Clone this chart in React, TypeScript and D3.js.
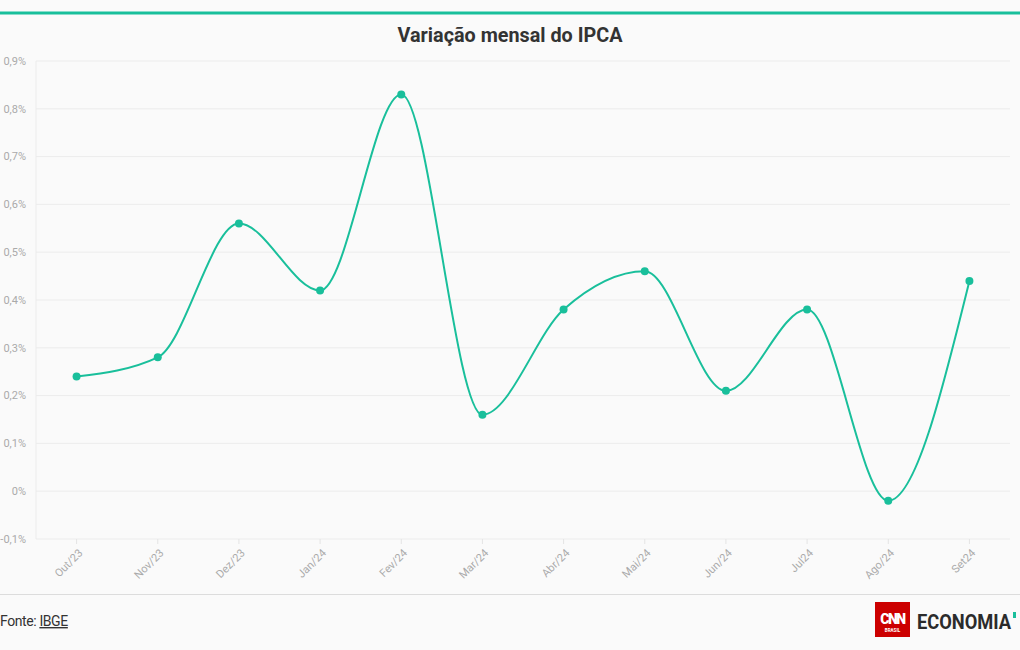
import React from "react";
import * as d3 from "d3";

const months = ["Out/23", "Nov/23", "Dez/23", "Jan/24", "Fev/24", "Mar/24", "Abr/24", "Mai/24", "Jun/24", "Jul24", "Ago/24", "Set24"];
const ipca = [0.24, 0.28, 0.56, 0.42, 0.83, 0.16, 0.38, 0.46, 0.21, 0.38, -0.02, 0.44];
const yTicks = [-0.1, 0, 0.1, 0.2, 0.3, 0.4, 0.5, 0.6, 0.7, 0.8, 0.9];

const W = 1020, H = 650;
const left = 36, right = 1010, top = 61, bottom = 539;
const teal = "#19bf9b";

function fmt(v: number) {
  if (Math.abs(v) < 1e-9) return "0%";
  return (v < 0 ? "-" : "") + Math.abs(v).toFixed(1).replace(".", ",") + "%";
}

export default function App() {
  const x = d3.scaleBand<string>().domain(months).range([left, right]).padding(0);
  const y = d3.scaleLinear().domain([-0.1, 0.9]).range([bottom, top]);
  const cx = (m: string) => (x(m) as number) + x.bandwidth() / 2;
  const line = d3
    .line<number>()
    .x((_, i) => cx(months[i]))
    .y((d) => y(d))
    .curve(d3.curveMonotoneX);

  return (
    <div style={{ position: "absolute", left: 0, top: 0, width: W, height: H, background: "#fafafa" }}>
      <svg width={W} height={H} style={{ display: "block", fontFamily: "Roboto, sans-serif" }}>
        <rect x={0} y={0} width={W} height={H} fill="#fafafa" />
        <rect x={0} y={11.5} width={W} height={3} fill={teal} />
        <text x={510} y={42} textAnchor="middle" fontSize={21} fontWeight={700} fill="#333" textLength={225} lengthAdjust="spacingAndGlyphs">
          Variação mensal do IPCA
        </text>
        {yTicks.map((t) => (
          <g key={t}>
            <line x1={left} x2={right} y1={y(t)} y2={y(t)} stroke="#ececec" strokeWidth={1} />
            <text x={26} y={y(t)} dy="0.35em" textAnchor="end" fontSize={11} fill="#aaaaaa">
              {fmt(t)}
            </text>
          </g>
        ))}
        <line x1={left} x2={left} y1={top} y2={bottom} stroke="#ececec" />
        {months.map((m) => (
          <g key={m}>
            <line x1={cx(m)} x2={cx(m)} y1={bottom} y2={bottom + 5} stroke="#e4e4e4" />
            <text
              transform={`translate(${cx(m) + 4},${bottom + 12}) rotate(-45)`}
              textAnchor="end"
              dy="0.35em"
              fontSize={11}
              fill="#aaaaaa"
            >
              {m}
            </text>
          </g>
        ))}
        <path d={line(ipca) || ""} fill="none" stroke={teal} strokeWidth={2} />
        {ipca.map((v, i) => (
          <circle key={i} cx={cx(months[i])} cy={y(v)} r={4} fill={teal} />
        ))}
        <line x1={0} x2={W} y1={594.5} y2={594.5} stroke="#dcdcdc" />
        <text x={0} y={626} fontSize={14} fill="#333" style={{ letterSpacing: "-0.4px" }}>
          Fonte: <tspan textDecoration="underline">IBGE</tspan>
        </text>
        <g>
          <rect x={875} y={602} width={35} height={35} fill="#cc0000" />
          <text x={892.5} y={624} textAnchor="middle" fontSize={14} fontWeight={900} fill="#fff" style={{ letterSpacing: "-1.5px" }}>
            CNN
          </text>
          <text x={892.5} y={632} textAnchor="middle" fontSize={4.5} fontWeight={700} fill="#fff">
            BRASIL
          </text>
          <text x={917} y={629} fontSize={20} fontWeight={700} fill="#2b2b2b" textLength={94} lengthAdjust="spacingAndGlyphs">
            ECONOMIA
          </text>
          <rect x={1013} y={612} width={3} height={6} fill={teal} />
        </g>
      </svg>
    </div>
  );
}
